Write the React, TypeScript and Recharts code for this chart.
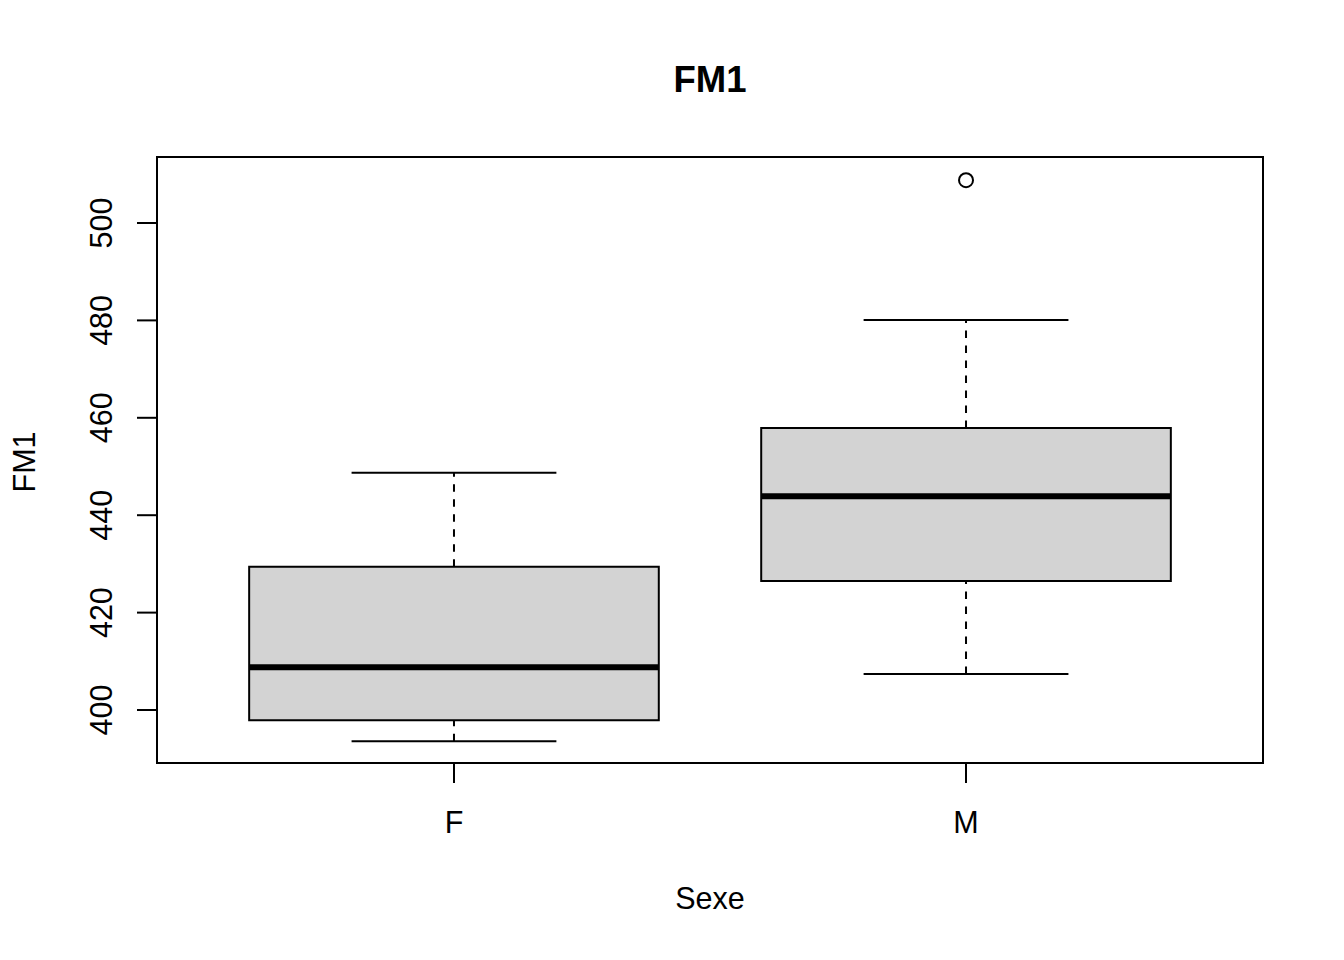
import React from 'react';
import {
  ComposedChart,
  XAxis,
  YAxis,
  ReferenceArea,
  ReferenceLine,
  Scatter,
} from 'recharts';

const categories = ['F', 'M'];
const whiskerLow = [393.6, 407.4];
const q1 = [397.9, 426.5];
const median = [408.8, 443.9];
const q3 = [429.4, 457.9];
const whiskerHigh = [448.7, 480.1];
const outlierCategory = ['M'];
const outlierValue = [508.8];
const yTicks = [400, 420, 440, 460, 480, 500];

const X_DOMAIN: [number, number] = [0.42, 2.58];
const Y_DOMAIN: [number, number] = [389.12, 513.55];

const FONT = '"Liberation Sans", Arial, Helvetica, sans-serif';
const FS = 30.5;

const outlierData = outlierCategory.map((c, i) => ({
  x: categories.indexOf(c) + 1,
  y: outlierValue[i],
}));

const YTick = (props: any) => {
  const { y, payload } = props;
  const x = 112;
  return (
    <text
      x={x}
      y={y}
      transform={`rotate(-90, ${x}, ${y})`}
      textAnchor="middle"
      fontSize={FS}
      fontFamily={FONT}
      fill="#000"
    >
      {payload.value}
    </text>
  );
};

const XTick = (props: any) => {
  const { x, payload } = props;
  return (
    <text
      x={x}
      y={833}
      textAnchor="middle"
      fontSize={FS}
      fontFamily={FONT}
      fill="#000"
    >
      {categories[payload.value - 1]}
    </text>
  );
};

const OutlierShape = (props: any) => {
  const { cx, cy } = props;
  return <circle cx={cx} cy={cy} r={7} fill="none" stroke="#000" strokeWidth={2} />;
};

export default function App() {
  return (
    <div style={{ position: 'absolute', left: 0, top: 0, width: 1344, height: 960, background: '#fff' }}>
      <ComposedChart
        width={1344}
        height={960}
        margin={{ top: 157, right: 81, bottom: 137, left: 97 }}
      >
        <XAxis
          dataKey="x"
          type="number"
          domain={X_DOMAIN}
          allowDataOverflow
          ticks={[1, 2]}
          height={60}
          axisLine={false}
          tickLine={{ stroke: '#000', strokeWidth: 2 }}
          tickSize={20}
          tickMargin={0}
          tick={XTick}
          interval={0}
        />
        <YAxis
          dataKey="y"
          type="number"
          domain={Y_DOMAIN}
          allowDataOverflow
          ticks={yTicks}
          width={60}
          axisLine={false}
          tickLine={{ stroke: '#000', strokeWidth: 2 }}
          tickSize={20}
          tickMargin={0}
          tick={YTick}
          interval={0}
        />
        {categories.map((c, i) => (
          <ReferenceLine
            key={`wu-${c}`}
            segment={[
              { x: i + 1, y: q3[i] },
              { x: i + 1, y: whiskerHigh[i] },
            ]}
            stroke="#000"
            strokeWidth={2}
            strokeDasharray="7.5 7.5"
            ifOverflow="visible"
          />
        ))}
        {categories.map((c, i) => (
          <ReferenceLine
            key={`wl-${c}`}
            segment={[
              { x: i + 1, y: whiskerLow[i] },
              { x: i + 1, y: q1[i] },
            ]}
            stroke="#000"
            strokeWidth={2}
            strokeDasharray="7.5 7.5"
            ifOverflow="visible"
          />
        ))}
        {categories.map((c, i) => (
          <ReferenceLine
            key={`cu-${c}`}
            segment={[
              { x: i + 0.8, y: whiskerHigh[i] },
              { x: i + 1.2, y: whiskerHigh[i] },
            ]}
            stroke="#000"
            strokeWidth={2}
            ifOverflow="visible"
          />
        ))}
        {categories.map((c, i) => (
          <ReferenceLine
            key={`cl-${c}`}
            segment={[
              { x: i + 0.8, y: whiskerLow[i] },
              { x: i + 1.2, y: whiskerLow[i] },
            ]}
            stroke="#000"
            strokeWidth={2}
            ifOverflow="visible"
          />
        ))}
        {categories.map((c, i) => (
          <ReferenceArea
            key={`box-${c}`}
            x1={i + 0.6}
            x2={i + 1.4}
            y1={q1[i]}
            y2={q3[i]}
            fill="#d3d3d3"
            fillOpacity={1}
            stroke="#000"
            strokeWidth={2}
            ifOverflow="visible"
          />
        ))}
        {categories.map((c, i) => (
          <ReferenceLine
            key={`med-${c}`}
            segment={[
              { x: i + 0.6, y: median[i] },
              { x: i + 1.4, y: median[i] },
            ]}
            stroke="#000"
            strokeWidth={6}
            ifOverflow="visible"
          />
        ))}
        <ReferenceArea
          x1={X_DOMAIN[0]}
          x2={X_DOMAIN[1]}
          y1={Y_DOMAIN[0]}
          y2={Y_DOMAIN[1]}
          fill="none"
          fillOpacity={0}
          stroke="#000"
          strokeWidth={2}
          ifOverflow="visible"
        />
        <Scatter
          data={outlierData}
          dataKey="y"
          isAnimationActive={false}
          shape={<OutlierShape />}
        />
      </ComposedChart>
      <svg
        width={1344}
        height={960}
        style={{ position: 'absolute', left: 0, top: 0, pointerEvents: 'none' }}
      >
        <text x={710} y={92} textAnchor="middle" fontSize={36.5} fontWeight="bold" fontFamily={FONT} fill="#000">
          FM1
        </text>
        <text x={710} y={909} textAnchor="middle" fontSize={FS} fontFamily={FONT} fill="#000">
          Sexe
        </text>
        <text
          x={35}
          y={462}
          transform="rotate(-90, 35, 462)"
          textAnchor="middle"
          fontSize={FS}
          fontFamily={FONT}
          fill="#000"
        >
          FM1
        </text>
      </svg>
    </div>
  );
}
